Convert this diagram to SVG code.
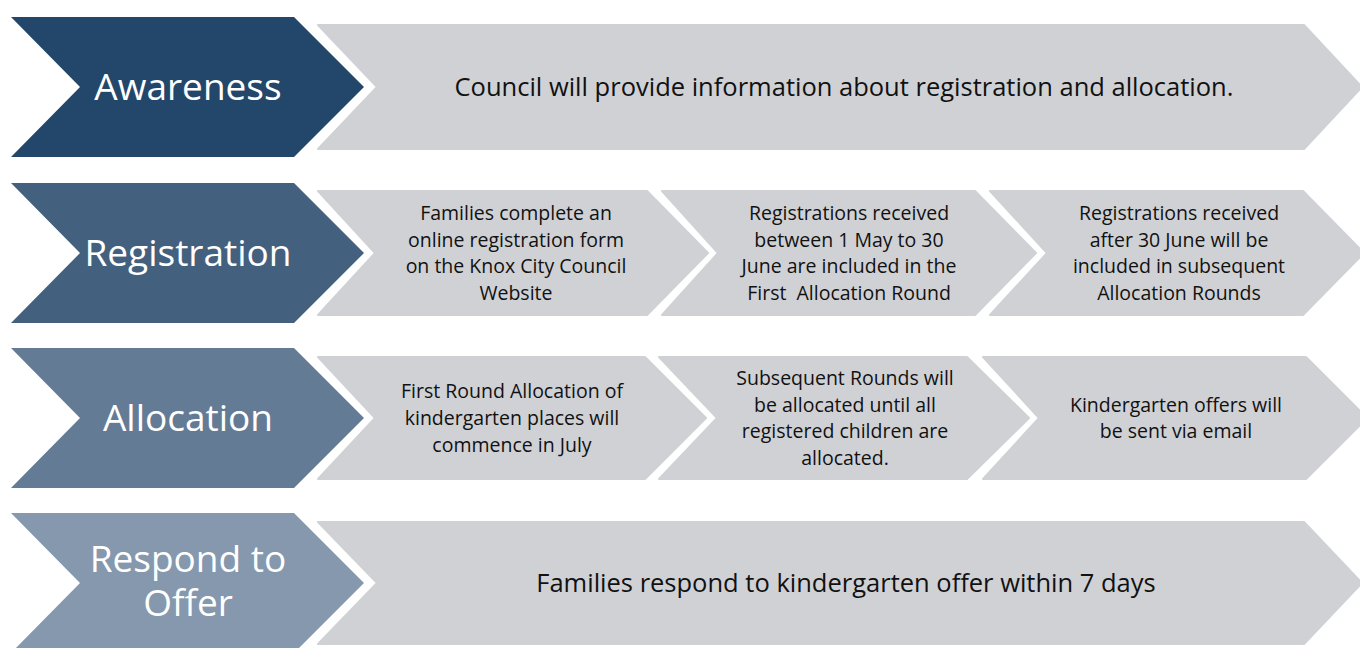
<svg xmlns="http://www.w3.org/2000/svg" width="1360" height="648" viewBox="0 0 1360 648">
<style>
.step{font-family:"Open Sans","Liberation Sans",sans-serif;font-size:37px;fill:#ffffff;text-anchor:middle}
.box{fill:#D0D1D5;stroke:#D0D1D5;stroke-width:2;stroke-linejoin:round}
.t{font-family:"Open Sans","Liberation Sans",sans-serif;font-size:19.5px;fill:#111111;text-anchor:middle}
.tl{font-family:"Open Sans","Liberation Sans",sans-serif;font-size:25.5px;fill:#111111;text-anchor:middle}
</style>
<rect width="1360" height="648" fill="#ffffff"/>
<g id="awareness">
<polygon points="11,17 294,17 364,87 294,157 11,157 80,87" fill="#23466B"/>
<text class="step" x="188" y="100">Awareness</text>
</g>
<g id="awareness-1">
<polygon class="box" points="318,25 1304,25 1362,87 1304,149 318,149 377,87"/>
<text class="tl" x="844" y="96">Council will provide information about registration and allocation.</text>
</g>
<g id="registration">
<polygon points="11,183 294,183 364,253 294,323 11,323 80,253" fill="#43607F"/>
<text class="step" x="188" y="266">Registration</text>
</g>
<g id="registration-1">
<polygon class="box" points="318,191 647,191 708,253 647,315 318,315 375,253"/>
<text class="t" x="516"><tspan x="516" y="220">Families complete an</tspan><tspan x="516" y="247">online registration form</tspan><tspan x="516" y="273">on the Knox City Council</tspan><tspan x="516" y="300">Website</tspan></text>
</g>
<g id="registration-2">
<polygon class="box" points="662,191 975,191 1036,253 975,315 662,315 718,253"/>
<text class="t" x="849"><tspan x="849" y="220">Registrations received</tspan><tspan x="849" y="247">between 1 May to 30</tspan><tspan x="849" y="273">June are included in the</tspan><tspan x="849" y="300" xml:space="preserve">First  Allocation Round</tspan></text>
</g>
<g id="registration-3">
<polygon class="box" points="990,191 1303,191 1364,253 1303,315 990,315 1047,253"/>
<text class="t" x="1179"><tspan x="1179" y="220">Registrations received</tspan><tspan x="1179" y="247">after 30 June will be</tspan><tspan x="1179" y="273">included in subsequent</tspan><tspan x="1179" y="300">Allocation Rounds</tspan></text>
</g>
<g id="allocation">
<polygon points="11,348 294,348 364,418 294,488 11,488 80,418" fill="#647B96"/>
<text class="step" x="188" y="431">Allocation</text>
</g>
<g id="allocation-1">
<polygon class="box" points="318,357 645,357 706,418 645,479 318,479 375,418"/>
<text class="t" x="512"><tspan x="512" y="398">First Round Allocation of</tspan><tspan x="512" y="425">kindergarten places will</tspan><tspan x="512" y="452">commence in July</tspan></text>
</g>
<g id="allocation-2">
<polygon class="box" points="659,357 967,357 1029,418 967,479 659,479 717,418"/>
<text class="t" x="845"><tspan x="845" y="385">Subsequent Rounds will</tspan><tspan x="845" y="412">be allocated until all</tspan><tspan x="845" y="438">registered children are</tspan><tspan x="845" y="465">allocated.</tspan></text>
</g>
<g id="allocation-3">
<polygon class="box" points="983,357 1306,357 1367,418 1306,479 983,479 1039,418"/>
<text class="t" x="1176"><tspan x="1176" y="412">Kindergarten offers will</tspan><tspan x="1176" y="438">be sent via email</tspan></text>
</g>
<g id="respond">
<polygon points="11,513 294,513 364,583 294,653 11,653 80,583" fill="#8598AE"/>
<text class="step" x="188"><tspan x="188" y="572">Respond to</tspan><tspan x="188" y="616">Offer</tspan></text>
</g>
<g id="respond-1">
<polygon class="box" points="318,522 1304,522 1362,583 1304,644 318,644 377,583"/>
<text class="tl" x="846" y="592">Families respond to kindergarten offer within 7 days</text>
</g>
<g id="connectors"></g>
</svg>
